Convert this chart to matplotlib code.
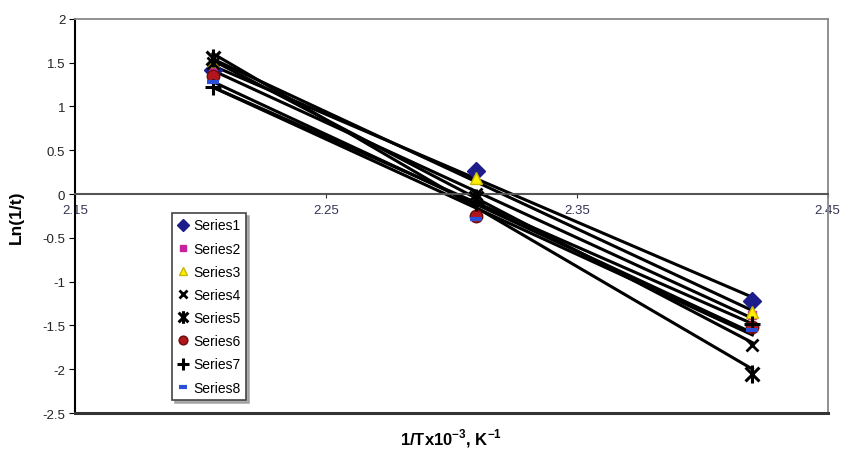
import numpy as np
import matplotlib.pyplot as plt
from matplotlib.path import Path

plt.rcParams['font.family'] = ['Liberation Sans', 'DejaVu Sans']
plt.rcParams['mathtext.fontset'] = 'custom'
plt.rcParams['mathtext.rm'] = 'Liberation Sans'
plt.rcParams['mathtext.bf'] = 'Liberation Sans:bold'

# 1/T x 10^-3 values
inv_t = [2.205, 2.31, 2.42]

# Ln(1/t) for each series
series1 = [1.42, 0.26, -1.22]
series2 = [1.45, -0.05, -1.38]
series3 = [1.52, 0.18, -1.35]
series4 = [1.50, 0.00, -1.72]
series5 = [1.55, -0.05, -2.05]
series6 = [1.35, -0.25, -1.52]
series7 = [1.22, -0.10, -1.48]
series8 = [1.28, -0.28, -1.55]

names = ['Series1', 'Series2', 'Series3', 'Series4',
         'Series5', 'Series6', 'Series7', 'Series8']
all_series = [series1, series2, series3, series4,
              series5, series6, series7, series8]

# asterisk marker (x with vertical bar)
star = Path([(-1, -1), (1, 1), (-1, 1), (1, -1), (0, -1.3), (0, 1.3)],
            [Path.MOVETO, Path.LINETO, Path.MOVETO, Path.LINETO,
             Path.MOVETO, Path.LINETO])

styles = [
    dict(marker='D', color='#1c1c8a', ms=9, mec='#1c1c8a'),
    dict(marker='s', color='#c8239c', ms=6, mec='#c8239c'),
    dict(marker='^', color='#ffee00', ms=8, mec='#c9b800'),
    dict(marker='x', color='black', ms=9, mew=2),
    dict(marker=star, color='black', ms=13, mew=2.2),
    dict(marker='o', color='#b0161c', ms=9, mec='#6b0c0c'),
    dict(marker='+', color='black', ms=12, mew=2.2),
    dict(marker='_', color='#2a4fd8', ms=8, mew=3),
]

fig, ax = plt.subplots(figsize=(8.42, 4.52), dpi=100)
fig.subplots_adjust(left=0.089, right=0.983, bottom=0.084, top=0.956)

x = np.array(inv_t)
xx = np.array([x.min(), x.max()])
for ys in all_series:
    k, b = np.polyfit(x, ys, 1)
    ax.plot(xx, k * xx + b, color='black', lw=2.2, zorder=2)

for name, ys, st in zip(names, all_series, styles):
    ax.plot(inv_t, ys, linestyle='none', label=name, zorder=3, **st)

ax.set_xlim(2.15, 2.45)
ax.set_ylim(-2.5, 2)
ax.set_xticks([2.15, 2.25, 2.35, 2.45])
ax.set_xticklabels(['2.15', '2.25', '2.35', '2.45'])
yt = [2, 1.5, 1, 0.5, 0, -0.5, -1, -1.5, -2, -2.5]
ax.set_yticks(yt)
ax.set_yticklabels(['2', '1.5', '1', '0.5', '0', '-0.5', '-1', '-1.5', '-2', '-2.5'])

ax.spines['bottom'].set_position(('data', 0))
ax.spines['bottom'].set_color('#555555')
ax.spines['bottom'].set_linewidth(1.5)
ax.spines['left'].set_linewidth(1.5)
ax.spines['top'].set_color('#888888')
ax.spines['right'].set_color('#888888')
ax.spines['top'].set_linewidth(1.3)
ax.spines['right'].set_linewidth(1.3)
ax.axhline(-2.5, color='#333333', lw=2.2, clip_on=False, zorder=4)

ax.tick_params(axis='x', direction='out', length=3, pad=4, labelsize=9.5,
               colors='#333333', labelcolor='#333355')
ax.tick_params(axis='y', direction='out', length=4, pad=3, labelsize=9.5,
               labelcolor='#222222')

ax.set_ylabel('Ln(1/t)', fontsize=12.5, fontweight='bold')
ax.yaxis.set_label_coords(-0.068, 0.5)
ax.set_xlabel(r'1/Tx10$^{\mathbf{-3}}$, K$^{\mathbf{-1}}$', fontsize=12, fontweight='bold')
ax.xaxis.set_label_coords(0.5, -0.035)

leg = ax.legend(loc='lower left', bbox_to_anchor=(0.12, 0.015), fontsize=10,
                labelspacing=0.66, handlelength=0.8, handletextpad=0.3,
                borderpad=0.4, fancybox=False, edgecolor='#444444',
                shadow={'color': '#999999', 'alpha': 0.8}, markerscale=0.7)
leg.get_frame().set_linewidth(1.2)

plt.savefig('out.png', dpi=100)
